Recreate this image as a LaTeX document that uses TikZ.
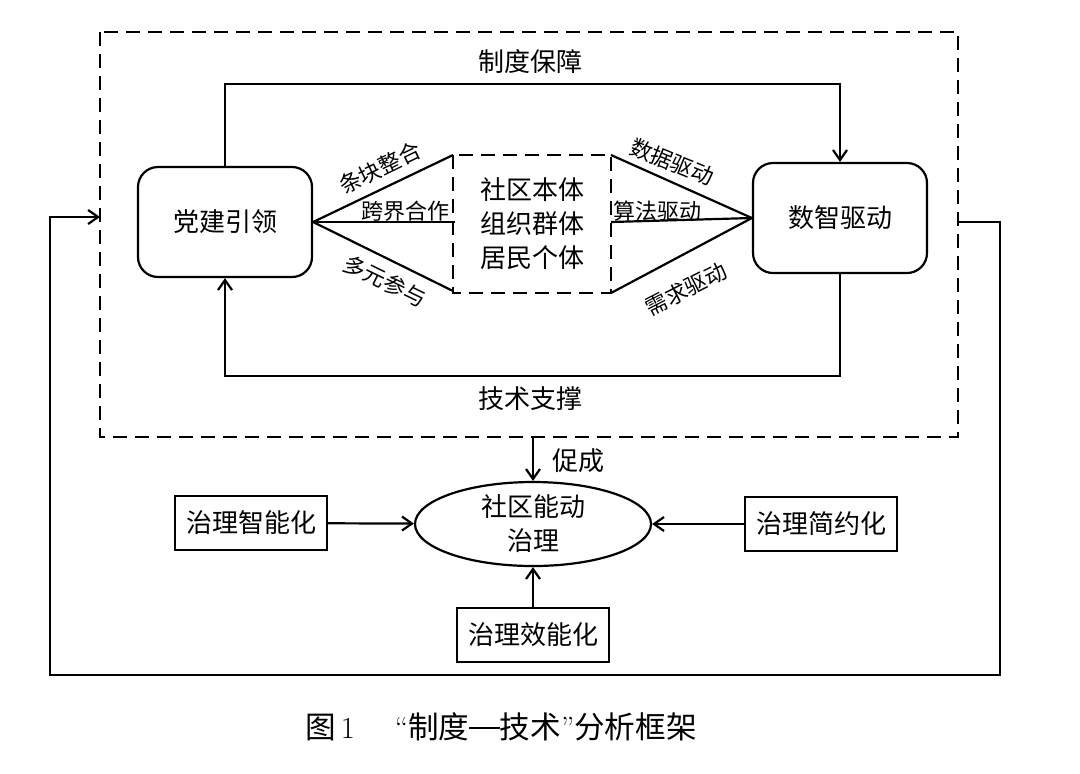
\documentclass[tikz,border=0pt]{standalone}
\usepackage{fontspec}
\newfontfamily\cjk{Noto Sans CJK SC}
\usetikzlibrary{positioning,calc}
\usetikzlibrary{shapes.geometric,arrows.meta}

\tikzset{
  unit/.style={draw, line width=1.1pt, rounded corners=10pt, minimum width=87pt, minimum height=55pt},
  plain/.style={draw, line width=1.1pt, minimum width=76pt, minimum height=27pt},
  flow/.style={line width=1.1pt, -{Straight Barb[length=5pt,width=7pt,line width=1.1pt]}},
  edge/.style={line width=1.1pt},
  frame/.style={line width=1.1pt, dash pattern=on 7pt off 4pt},
  tag/.style={font=\cjk\fontsize{11}{13}\selectfont, inner sep=1pt},
}

\begin{document}
\begin{tikzpicture}[x=0.5pt, y=-0.5pt, font=\cjk\fontsize{13}{17}\selectfont]
\useasboundingbox (0,0) rectangle (1080,773);

% outer dashed frame
\draw[frame] (100,32) rectangle (958,437);
\path (100,217) coordinate (frame_w);
\path (958,222) coordinate (frame_e);
\path (533,437) coordinate (frame_s);

\path (225,222) node[unit] (party) {党建引领};
\path (840,218) node[unit] (digital) {数智驱动};

% middle dashed box
\draw[frame] (453,155) rectangle (611,293);
\path (532,224) node[align=center] (subjects) {社区本体\\组织群体\\居民个体};
\path (453,155) coordinate (mid_nw);
\path (455,222) coordinate (mid_w);
\path (453,291) coordinate (mid_sw);
\path (611,155) coordinate (mid_ne);
\path (611,222) coordinate (mid_e);
\path (611,293) coordinate (mid_se);

\draw[edge] (party.east) -- (mid_nw);
\draw[edge] (party.east) -- (mid_w);
\draw[edge] (party.east) -- (mid_sw);
\draw[edge] (digital.west) -- (mid_ne);
\draw[edge] (digital.west) -- (mid_e);
\draw[edge] (digital.west) -- (mid_se);

\path (380,168) node[tag, rotate=26] (l_tiaokuai) {条块整合};
\path (405,211) node[tag] (l_kuajie) {跨界合作};
\path (385,281) node[tag, rotate=-26] (l_duoyuan) {多元参与};
\path (672,162) node[tag, rotate=-22] (l_shuju) {数据驱动};
\path (657,211) node[tag] (l_suanfa) {算法驱动};
\path (686,289) node[tag, rotate=27] (l_xuqiu) {需求驱动};

% institution and technology loops
\draw[flow] (party.north) |- (530,84) -| (digital.north);
\path (530,62) node (l_zhidu) {制度保障};
\draw[flow] (digital.south) |- (530,376) -| (party.south);
\path (530,399) node (l_jishu) {技术支撑};

% governance part
\path (533,524) node[draw, ellipse, line width=1.1pt, minimum width=118pt, minimum height=42pt, align=center, inner sep=0pt] (core) {社区能动\\治理};
\path (251,523) node[plain] (smart) {治理智能化};
\path (821,524) node[plain] (simple) {治理简约化};
\path (533,635) node[plain] (effect) {治理效能化};

\draw[flow] (frame_s) -- (core.north);
\path (578,461) node (l_cucheng) {促成};
\draw[flow] (smart) -- (core);
\draw[flow] (simple) -- (core);
\draw[flow] (effect.north) -- (core.south);

% feedback
\draw[flow] (frame_e) -- (1000,222) |- (50,675) |- (frame_w);

% caption
\path (501,727) node[font=\cjk\fontsize{15.3}{19}\selectfont] (caption) {图\,{\rmfamily 1}\hspace{1.3em}{\rmfamily “}制度\rule[0.33em]{1em}{0.06em}技术{\rmfamily ”}分析框架};
\end{tikzpicture}
\end{document}
